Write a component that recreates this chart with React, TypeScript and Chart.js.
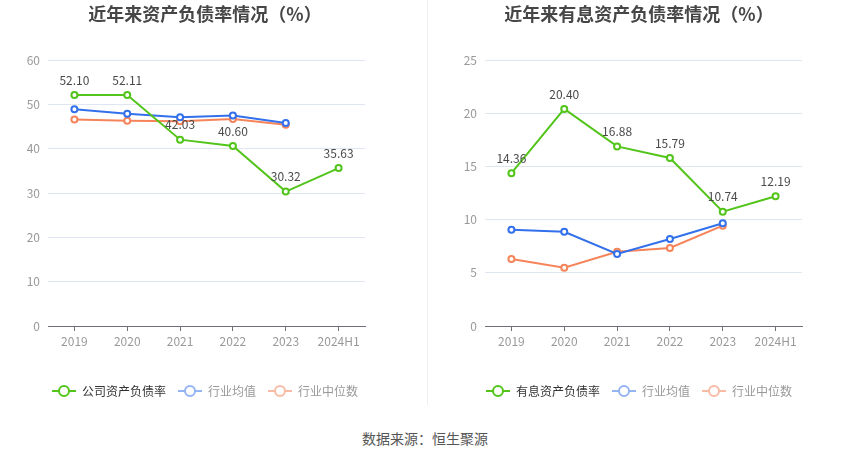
import { useEffect, useRef } from 'react';
import { Chart, registerables } from 'chart.js';

Chart.register(...registerables);

const years = ['2019', '2020', '2021', '2022', '2023', '2024H1'];

const debtRatio = [52.1, 52.11, 42.03, 40.6, 30.32, 35.63];
const debtIndustryMean = [48.9, 47.9, 47.1, 47.5, 45.8, null];
const debtIndustryMedian = [46.6, 46.3, 46.2, 46.7, 45.4, null];

const interestRatio = [14.36, 20.4, 16.88, 15.79, 10.74, 12.19];
const interestIndustryMean = [9.05, 8.86, 6.77, 8.18, 9.65, null];
const interestIndustryMedian = [6.3, 5.48, 6.98, 7.33, 9.43, null];

const GREEN = '#52c41a';
const BLUE = '#3370eb';
const ORANGE = '#f6845a';
const FONT = "'Noto Sans CJK SC', 'Noto Sans', sans-serif";

Chart.defaults.font.family = FONT;

// legend marker: short line with a hollow circle, like the original
function legendIcon(color: string) {
  const c = document.createElement('canvas');
  c.width = 24;
  c.height = 14;
  const ctx = c.getContext('2d')!;
  ctx.strokeStyle = color;
  ctx.lineWidth = 2;
  ctx.beginPath();
  ctx.moveTo(0, 7);
  ctx.lineTo(24, 7);
  ctx.stroke();
  ctx.beginPath();
  ctx.arc(12, 7, 5, 0, Math.PI * 2);
  ctx.fillStyle = '#fff';
  ctx.fill();
  ctx.stroke();
  return c;
}

const valueLabels = {
  id: 'valueLabels',
  afterDatasetsDraw(chart: any) {
    const meta = chart.getDatasetMeta(0);
    const data = chart.data.datasets[0].data;
    const ctx = chart.ctx;
    ctx.save();
    ctx.font = `12px ${FONT}`;
    ctx.fillStyle = '#4a4a4a';
    ctx.textAlign = 'center';
    ctx.textBaseline = 'middle';
    meta.data.forEach((pt: any, i: number) => {
      if (data[i] == null) return;
      ctx.fillText(Number(data[i]).toFixed(2), pt.x, pt.y - 15);
    });
    ctx.restore();
  },
};

interface PanelProps {
  title: string;
  names: string[];
  series: (number | null)[][];
  max: number;
  step: number;
  yWidth: number;
  padRight: number;
  width: number;
}

function Panel({ title, names, series, max, step, yWidth, padRight, width }: PanelProps) {
  const canvasRef = useRef<HTMLCanvasElement>(null);

  useEffect(() => {
    if (!canvasRef.current) return;
    const colors = [GREEN, BLUE, ORANGE];
    const legendColors = [GREEN, '#94b4f3', '#f9bba3'];
    const textColors = ['#333', '#999', '#999'];
    const icons = legendColors.map(legendIcon);

    const chart = new Chart(canvasRef.current, {
      type: 'line',
      data: {
        labels: years,
        datasets: series.map((s, i) => ({
          label: names[i],
          data: s,
          borderColor: colors[i],
          backgroundColor: colors[i],
          borderWidth: 2,
          pointRadius: 3,
          pointBorderWidth: 2,
          pointBackgroundColor: '#fff',
          pointBorderColor: colors[i],
          tension: 0,
        })),
      },
      options: {
        responsive: false,
        animation: false,
        layout: { padding: { left: 0, right: 0, top: 0, bottom: 3 } },
        plugins: {
          title: {
            display: true,
            text: title,
            color: '#464646',
            font: { size: 18, weight: 'bold' },
            padding: { top: 3, bottom: 35.4 },
          },
          legend: {
            position: 'bottom',
            labels: {
              usePointStyle: true,
              pointStyleWidth: 24,
              padding: 12,
              font: { size: 12 },
              generateLabels: () =>
                names.map((n, i) => ({
                  text: n,
                  pointStyle: icons[i],
                  fontColor: textColors[i],
                  fillStyle: legendColors[i],
                  strokeStyle: legendColors[i],
                  lineWidth: 0,
                  hidden: false,
                  datasetIndex: i,
                })),
            },
          },
          tooltip: { enabled: false },
        },
        scales: {
          x: {
            offset: true,
            grid: {
              offset: false,
              drawOnChartArea: false,
              drawTicks: true,
              tickLength: 5,
              color: '#6e7079',
            },
            border: { display: true, color: '#6e7079' },
            ticks: { color: '#999', font: { size: 12 }, padding: 3 },
            afterFit: (scale: any) => {
              scale.height = 47;
            },
          },
          y: {
            min: 0,
            max,
            ticks: { stepSize: step, color: '#999', font: { size: 12 }, padding: 8 },
            grid: { color: '#e0e6f1', drawTicks: false },
            border: { display: false },
            afterFit: (scale: any) => {
              scale.width = yWidth;
            },
          },
          // empty right-side axis, only reserves space so the legend stays centred
          pad: {
            type: 'linear',
            position: 'right',
            display: true,
            grid: { display: false, drawTicks: false },
            ticks: { display: false },
            border: { display: false },
            afterFit: (scale: any) => {
              scale.width = padRight;
            },
          },
        },
      },
      plugins: [valueLabels],
    });

    return () => chart.destroy();
  }, []);

  return <canvas ref={canvasRef} width={width} height={410} />;
}

export default function App() {
  return (
    <div
      style={{
        position: 'fixed',
        left: 0,
        top: 0,
        width: 850,
        height: 459,
        background: '#fff',
        fontFamily: FONT,
      }}
    >
      <div style={{ position: 'absolute', left: 0, top: 0 }}>
        <Panel
          title="近年来资产负债率情况（%）"
          names={['公司资产负债率', '行业均值', '行业中位数']}
          series={[debtRatio, debtIndustryMean, debtIndustryMedian]}
          max={60}
          step={10}
          yWidth={48}
          padRight={45}
          width={410}
        />
      </div>
      <div
        style={{
          position: 'absolute',
          left: 427,
          top: 0,
          width: 1,
          height: 405,
          background: '#eeeeee',
        }}
      />
      <div style={{ position: 'absolute', left: 428, top: 0 }}>
        <Panel
          title="近年来有息资产负债率情况（%）"
          names={['有息资产负债率', '行业均值', '行业中位数']}
          series={[interestRatio, interestIndustryMean, interestIndustryMedian]}
          max={25}
          step={5}
          yWidth={57}
          padRight={48}
          width={422}
        />
      </div>
      <div
        style={{
          position: 'absolute',
          left: 0,
          top: 429,
          width: 850,
          textAlign: 'center',
          fontSize: 14,
          lineHeight: '18px',
          color: '#555',
        }}
      >
        数据来源：恒生聚源
      </div>
    </div>
  );
}
